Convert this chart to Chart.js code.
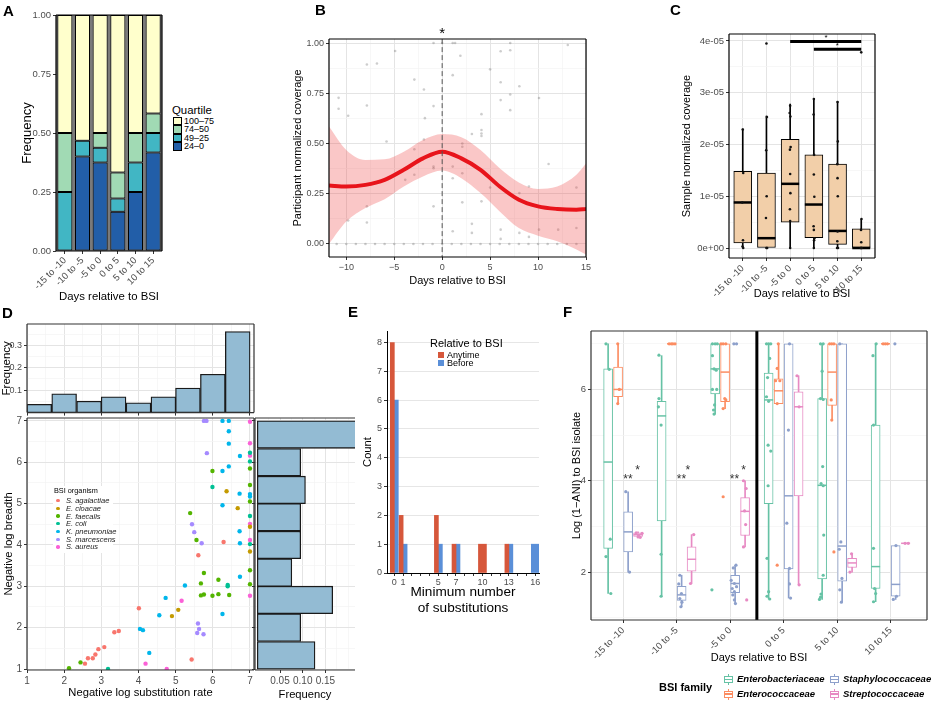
<!DOCTYPE html>
<html>
<head>
<meta charset="utf-8">
<title>BSI coverage figure</title>
<script src="https://cdn.jsdelivr.net/npm/chart.js@4.4.1/dist/chart.umd.min.js"></script>
<style>
  body { margin: 0; background: #fff; }
  #fig { position: relative; width: 933px; height: 704px; overflow: hidden; background: #fff;
         font-family: "Liberation Sans", Arial, sans-serif; color: #000; }
  #fig canvas { position: absolute; }
  .tag { position: absolute; font-size: 15px; line-height: 15px; font-weight: bold; }
  .abs { position: absolute; white-space: nowrap; }
</style>
</head>
<body>
<div id="fig">
  <canvas id="cA" width="170" height="305" style="left:0;top:0"></canvas>
  <canvas id="cB" width="345" height="300" style="left:250px;top:0"></canvas>
  <canvas id="cC" width="303" height="305" style="left:630px;top:0"></canvas>
  <canvas id="cDtop" width="260" height="120" style="left:0;top:300px"></canvas>
  <canvas id="cDmain" width="260" height="294" style="left:0;top:410px"></canvas>
  <canvas id="cDright" width="106" height="294" style="left:250px;top:410px"></canvas>
  <canvas id="cE" width="225" height="330" style="left:340px;top:300px"></canvas>
  <canvas id="cF" width="373" height="375" style="left:560px;top:300px"></canvas>
  <div class="tag" style="left:3px;top:3px">A</div>
  <div class="tag" style="left:315px;top:2px">B</div>
  <div class="tag" style="left:670px;top:2px">C</div>
  <div class="tag" style="left:2px;top:305px">D</div>
  <div class="tag" style="left:348px;top:304px">E</div>
  <div class="tag" style="left:563px;top:304px">F</div>
</div>
<script>
'use strict';

// ---- A: coverage quartile per window ----
const dayBins = ['-15 to -10', '-10 to -5', '-5 to 0', '0 to 5', '5 to 10', '10 to 15'];
const quartileNames = ['100–75', '74–50', '49–25', '24–0'];
const q100to75 = [0.5, 0.533, 0.5, 0.667, 0.5, 0.417];
const q74to50 = [0.25, 0, 0.0625, 0.111, 0.125, 0.083];
const q49to25 = [0.25, 0.067, 0.0625, 0.056, 0.125, 0.083];
const q24to0 = [0, 0.4, 0.375, 0.166, 0.25, 0.417];
const freqTicks = [0, 0.25, 0.5, 0.75, 1];
const freqLabels = ['0.00', '0.25', '0.50', '0.75', '1.00'];

// ---- B: participant normalized coverage ----
const bFitDays = [-11.8, -10, -8, -6, -4, -2, 0, 2, 4, 6, 8, 10, 12, 14, 15];
const bFit = [0.291, 0.286, 0.294, 0.319, 0.369, 0.426, 0.459, 0.426, 0.369, 0.286, 0.22, 0.187, 0.174, 0.17, 0.174];
const bUpper = [0.585, 0.468, 0.418, 0.421, 0.459, 0.517, 0.547, 0.531, 0.468, 0.377, 0.306, 0.274, 0.286, 0.344, 0.40];
const bLower = [0.0, 0.112, 0.179, 0.223, 0.286, 0.336, 0.365, 0.327, 0.253, 0.162, 0.079, 0.041, 0.013, -0.028, -0.053];
const bPoints = [
  [-0.9, 1.0], [0, 1.0], [1.1, 1.0], [1.35, 1.0], [7.1, 1.0], [13.1, 0.99],
  [-10.8, 0.727], [-10.8, 0.673], [-9.8, 0.638], [-7.85, 0.893], [-6.8, 0.898], [-7.85, 0.689],
  [-4.9, 0.96], [-5.8, 0.51], [-2.9, 0.818], [-1.9, 0.769], [-0.9, 0.686], [-1.8, 0.626],
  [1.1, 0.84], [1.9, 0.937], [5.0, 0.869], [6.1, 0.959], [7.1, 0.964], [6.1, 0.805], [6.1, 0.716],
  [7.1, 0.744], [7.1, 0.666], [8.05, 0.785], [10.1, 0.726], [4.1, 0.646], [4.1, 0.567], [4.1, 0.55],
  [4.1, 0.537], [3.1, 0.547], [2.1, 0.5], [2.1, 0.484], [11.1, 0.398], [1.1, 0.327], [-0.9, 0.187],
  [-7.85, 0.187], [-7.85, 0.107], [-9.8, 0.117], [2.1, 0.207], [4.1, 0.212], [5.0, 0.281], [3.1, 0.1],
  [3.1, 0.055], [1.1, 0.063], [6.1, 0.071], [6.1, 0.025], [8.05, 0.055], [9.05, 0.035], [10.1, 0.071],
  [12.1, 0.071], [14.0, 0.281], [14.0, 0.079], [-3.85, 0.319], [-2.9, 0.344], [-1.9, 0.52], [-0.9, 0.385],
  [-0.9, 0.377], [1.1, 0.385], [-2.9, 0.471], [2.1, 0.352], [8.05, 0.253], [9.05, 0.286],
  [-11, 0], [-10, 0], [-9, 0], [-8, 0], [-7, 0], [-6, 0], [-5, 0], [-4, 0], [-3, 0], [-2, 0], [-1, 0],
  [0, 0], [1, 0], [2, 0], [3, 0], [4, 0], [5, 0], [6, 0], [7, 0], [8, 0], [9, 0], [10, 0], [11, 0],
  [12, 0], [13, 0], [14, 0]
];
const bXTicks = [-10, -5, 0, 5, 10, 15];
const bXLabels = ['−10', '−5', '0', '5', '10', '15'];
const bYTicks = [0, 0.25, 0.5, 0.75, 1];

// ---- C: sample normalized coverage (values in units of 1e-05) ----
const cLow = [0, 0, 0, 0, 0, 0];
const cQ1 = [0.1, 0, 0.5, 0.2, 0.07, 0];
const cMedian = [0.88, 0.19, 1.24, 0.84, 0.33, 0];
const cQ3 = [1.48, 1.45, 2.1, 1.8, 1.62, 0.37];
const cHigh = [2.3, 2.55, 2.78, 2.88, 2.83, 0.55];
const cPoints = [
  [1.0, 2.29], [1.02, 1.45], [0.98, 0.88], [1.01, 0.15], [0.99, 0.03], [1.02, 0],
  [2.0, 3.95], [2.02, 2.53], [1.99, 1.89], [2.01, 1.0], [1.98, 0.58], [2.0, 0], [2.03, 0],
  [3.0, 2.75], [2.98, 2.61], [3.01, 2.54], [3.02, 1.95], [2.99, 1.9], [3.0, 1.43], [3.01, 1.06],
  [2.99, 0.75], [3.0, 0.52], [3.0, 0],
  [4.0, 2.88], [3.99, 2.58], [4.01, 1.8], [4.0, 1.42], [4.02, 0.99], [3.99, 0.42], [4.0, 0.35],
  [4.02, 0.19], [4.01, 0.15], [4.0, 0],
  [5.0, 2.82], [5.01, 2.06], [4.99, 1.62], [5.0, 1.35], [5.01, 1.0], [5.0, 0.32], [4.99, 0.13],
  [4.98, 0], [5.02, 0],
  [6.0, 3.78], [6.01, 0.56], [5.99, 0.35], [6.0, 0.11], [5.98, 0], [6.02, 0]
];
const cSigFrom = [3, 4];
const cSigTo = [6, 6];
const cSigLevel = [3.99, 3.84];
const cStarX = [4.51, 4.99];
const cStarY = [4.06, 3.9];
const cYTicks = [0, 1, 2, 3, 4];
const cYLabels = ['0e+00', '1e-05', '2e-05', '3e-05', '4e-05'];

// ---- D: substitution rate vs breadth ----
const dOrganisms = ['S. agalactiae', 'E. cloacae', 'E. faecalis', 'E. coli', 'K. pneumoniae', 'S. marcescens', 'S. aureus'];
const dAgalactiae = [[6.29, 4.07], [5.61, 3.75], [4.01, 2.47], [3.35, 1.89], [3.47, 1.92], [3.08, 1.53], [2.92, 1.48],
  [2.84, 1.35], [2.77, 1.26], [2.64, 1.26], [2.56, 1.13], [5.43, 1.23]];
const dCloacae = [[6.37, 5.30], [6.67, 4.89], [7, 4.44], [7, 3.84], [5.07, 2.43], [4.90, 2.28]];
const dFaecalis = [[7, 5.85], [7, 5.45], [7, 5.05], [7, 3.39], [7, 3.05], [5.99, 5.79], [5.39, 4.77], [5.56, 4.12],
  [5.76, 3.32], [5.68, 3.07], [6.15, 3.16], [5.68, 2.78], [5.76, 2.80], [5.99, 2.77], [6.15, 2.81], [6.44, 2.79],
  [2.44, 1.16], [2.13, 1.02]];
const dColi = [[7, 6.23], [7, 6.02], [7, 4.70], [7, 4.02], [5.99, 5.40], [6.4, 3.0], [6.4, 3.03], [3.18, 1.0]];
const dPneumoniae = [[6.26, 7], [6.43, 7], [6.43, 6.75], [6.43, 6.45], [6.73, 6.15], [6.43, 5.90], [6.26, 5.79],
  [6.72, 5.24], [7, 5.23], [7, 5.17], [6.26, 4.96], [6.72, 4.33], [6.73, 4.04], [6.73, 3.23], [5.25, 3.02],
  [4.73, 2.72], [6.26, 2.33], [4.56, 2.30], [4.04, 1.97], [4.12, 1.94], [4.29, 1.39]];
const dMarcescens = [[5.76, 7], [5.83, 7], [5.84, 6.22], [5.44, 4.50], [5.50, 4.31], [5.70, 4.04], [5.60, 2.10],
  [5.63, 1.97], [5.58, 1.87], [5.75, 1.84]];
const dAureus = [[7, 6.98], [7, 6.46], [7, 6.16], [7, 4.51], [7, 4.12], [7, 2.77], [5.16, 2.65], [4.19, 1.13], [4.76, 1.0]];
const dBinCenters = [1.33, 2.0, 2.67, 3.33, 4.0, 4.67, 5.33, 6.0, 6.67];
const dRateFreq = [0.037, 0.084, 0.051, 0.07, 0.044, 0.07, 0.109, 0.171, 0.361];
const dBreadthFreq = [0.127, 0.0956, 0.166, 0.076, 0.0956, 0.0956, 0.106, 0.0956, 0.25];
const dAxisTicks = [1, 2, 3, 4, 5, 6, 7];
const dFreqTicks = [0.1, 0.2, 0.3];
const dFreqSideTicks = [0.05, 0.1, 0.15];
const dFreqSideLabels = ['0.05', '0.10', '0.15'];

// ---- E: minimum number of substitutions ----
const eSeries = ['Anytime', 'Before'];
const eSubs = [0, 1, 5, 7, 10, 13, 16];
const eAnytime = [8, 2, 2, 1, 1, 1, 0];
const eBefore = [6, 1, 1, 1, 0, 1, 1];
const eCountTicks = [0, 1, 2, 3, 4, 5, 6, 7, 8];

// ---- F: Log(1-ANI) by BSI family ----
const fFamilies = ['Enterobacteriaceae', 'Enterococcaceae', 'Staphylococcaceae', 'Streptococcaceae'];
// per window: [lower whisker, Q1, median, Q3, upper whisker]
const fEnteroBox = [[1.53, 2.52, 4.41, 6.45, 7.0], [1.47, 3.12, 5.42, 5.74, 6.74], [5.46, 5.9, 6.45, 7.0, 7.0],
  [1.41, 3.5, 5.77, 6.36, 7.0], [1.40, 1.85, 3.9, 5.8, 7.0], [1.35, 1.64, 2.12, 5.22, 7.0]];
const fEntcocBox = [[5.69, 5.84, 6.0, 6.49, 7.0], [7, 7, 7, 7, 7], [5.58, 5.73, 6.38, 7.0, 7.0],
  [5.69, 5.69, 5.97, 6.23, 7.0], [5.33, 5.65, 6.38, 7.0, 7.0], [7, 7, 7, 7, 7]];
const fStaphBox = [[2.0, 2.44, 2.88, 3.32, 3.76], [1.24, 1.38, 1.5, 1.69, 1.93], [1.31, 1.55, 1.75, 1.93, 2.15],
  [1.43, 2.07, 3.67, 7.0, 7.0], [1.34, 1.8, 2.57, 7.0, 7.0], [1.4, 1.47, 1.73, 2.58, 2.58]];
const fStrepBox = [[2.76, 2.78, 2.82, 2.86, 2.88], [1.75, 2.02, 2.28, 2.55, 2.82], [2.55, 2.8, 3.33, 3.63, 4.0],
  [1.72, 3.67, 5.62, 5.95, 6.3], [2.0, 2.1, 2.2, 2.3, 2.4], [2.63, 2.63, 2.63, 2.63, 2.63]];
const fEnteroPts = [[0.68, 7.0], [0.74, 6.44], [0.76, 2.72], [0.68, 2.34], [0.77, 1.53],
  [1.67, 6.75], [1.67, 5.80], [1.66, 5.62], [1.71, 5.22], [1.71, 2.39], [1.71, 1.47],
  [2.67, 7], [2.72, 7], [2.76, 7], [2.67, 6.74], [2.70, 6.45], [2.74, 6.42], [2.67, 6.0], [2.75, 6.0],
  [2.71, 5.66], [2.69, 5.55], [2.70, 5.46], [2.66, 1.61],
  [3.68, 7], [3.72, 7], [3.76, 7], [3.74, 6.68], [3.70, 6.26], [3.68, 5.84], [3.72, 5.74], [3.71, 4.78],
  [3.76, 4.65], [3.71, 3.89], [3.69, 2.30], [3.72, 1.57], [3.69, 1.47], [3.74, 1.41],
  [4.69, 7], [4.74, 7], [4.72, 6.40], [4.69, 5.80], [4.74, 5.78], [4.73, 4.31], [4.70, 3.94], [4.74, 3.89],
  [4.75, 2.81], [4.74, 1.93], [4.70, 1.52], [4.69, 1.45], [4.67, 1.40],
  [5.73, 7], [5.67, 6.74], [5.68, 5.22], [5.68, 2.52], [5.70, 1.64], [5.72, 1.53], [5.68, 1.35]];
const fEntcocPts = [[0.90, 7.0], [0.93, 6.0], [0.90, 5.69],
  [1.86, 7], [1.90, 7], [1.93, 7], [1.97, 7],
  [2.83, 7], [2.87, 7], [2.92, 7], [2.90, 5.80], [2.92, 5.77], [2.87, 5.58], [2.87, 3.65],
  [3.90, 7], [3.88, 6.46], [3.85, 6.19], [3.93, 6.19], [3.88, 5.69], [3.88, 2.15],
  [4.86, 7], [4.90, 7], [4.94, 7], [4.89, 5.77], [4.90, 5.33], [4.94, 2.44],
  [5.86, 7], [5.90, 7], [5.94, 7]];
const fStaphPts = [[1.05, 3.76], [1.12, 2.0],
  [2.06, 1.93], [2.04, 1.74], [2.09, 1.53], [2.06, 1.42], [2.10, 1.34], [2.08, 1.24],
  [3.07, 7], [3.12, 7], [3.06, 2.09], [3.11, 2.15], [3.02, 1.82], [3.08, 1.75], [3.12, 1.68], [3.04, 1.64],
  [3.08, 1.57], [3.05, 1.50], [3.08, 1.39], [3.10, 1.31],
  [4.11, 7], [4.09, 5.11], [4.06, 3.07], [4.11, 2.08], [4.11, 1.74], [4.13, 1.43],
  [5.05, 7], [5.07, 2.66], [5.04, 2.50], [5.09, 1.86], [5.05, 1.61], [5.08, 1.34],
  [6.08, 7], [6.10, 2.58], [6.05, 1.40], [6.11, 1.47]];
const fStrepPts = [[1.245, 2.86], [1.29, 2.81], [1.32, 2.76], [1.355, 2.85], [1.28, 2.77],
  [2.32, 2.82], [2.26, 1.75],
  [3.25, 4.0], [3.30, 3.83], [3.27, 3.34], [3.29, 3.04], [3.25, 2.55], [3.31, 1.39],
  [4.25, 6.30], [4.29, 5.62], [4.29, 1.72],
  [5.27, 2.40], [5.24, 2.0],
  [6.27, 2.63], [6.33, 2.63]];
const fStarX = [1.09, 1.27, 2.09, 2.21, 3.08, 3.25];
const fStarY = [4.03, 4.23, 4.03, 4.23, 4.03, 4.23];
const fStarText = ['**', '*', '**', '*', '**', '*'];
const fSplitAt = 3.5;
const fYTicks = [2, 4, 6];

// ---------- styling ----------
const FONT = '"Liberation Sans", Arial, sans-serif';
Chart.defaults.font.family = FONT;
Chart.defaults.color = '#4D4D4D';
Chart.defaults.animation = false;
Chart.defaults.events = [];
Chart.defaults.plugins.legend.display = false;
Chart.defaults.plugins.tooltip.enabled = false;

const quartileColors = ['#FFFFCC', '#A1DAB4', '#41B6C4', '#225EA8'];
const dColors = ['#F8766D', '#C49A00', '#53B400', '#00C094', '#00B6EB', '#A58AFF', '#FB61D7'];
const eColors = ['#D6573B', '#5A8FD8'];
const fColors = ['#66C2A5', '#FC8D62', '#8DA0CB', '#E78AC3'];
const fDodge = [-0.28, -0.094, 0.094, 0.28];
const histFill = '#93BBD3';

const near = (a, b) => Math.abs(a - b) < 1e-9;
const isMajor = (v, majors) => majors.some(m => near(m, v));
const labelFor = (vals, labels) => v => {
  const i = vals.findIndex(m => near(m, v));
  return i < 0 ? '' : (labels ? labels[i] : String(vals[i]));
};
const setTicks = values => scale => { scale.ticks = values.map(v => ({ value: v })); };
const fixW = w => scale => { scale.width = w; };
const fixH = h => scale => { scale.height = h; };
const halfSteps = (a, b, s) => { const out = []; for (let v = a; v <= b + 1e-9; v += s) out.push(+v.toFixed(6)); return out; };
const xy = pts => pts.map(p => ({ x: p[0], y: p[1] }));

function bwGrid(majors, onArea) {
  const maj = c => c.tick && isMajor(c.tick.value, majors);
  return {
    display: true, drawOnChartArea: onArea !== false, offset: false, tickLength: 3,
    color: c => maj(c) ? '#E4E4E4' : '#F3F3F3',
    lineWidth: c => maj(c) ? 1 : 0.7,
    tickColor: c => maj(c) ? '#333' : 'rgba(0,0,0,0)',
    tickWidth: 1
  };
}

function axis(o) {
  const horiz = o.pos === 'bottom' || o.pos === 'top';
  return {
    type: 'linear', position: o.pos, min: o.min, max: o.max, offset: false,
    afterBuildTicks: setTicks(o.all || o.majors),
    afterFit: horiz ? fixH(o.size) : fixW(o.size),
    grid: bwGrid(o.majors, o.onArea),
    border: { display: false },
    ticks: {
      display: o.showLabels !== false, autoSkip: false, font: { size: o.tickSize || 9.5 }, color: '#4D4D4D',
      padding: 2, minRotation: o.rot || 0, maxRotation: o.rot || 0, callback: labelFor(o.majors, o.labels)
    },
    title: o.title ? {
      display: true, text: o.title, color: '#000', font: { size: o.titleSize || 11 },
      padding: horiz ? { top: 0, bottom: o.titlePad } : { top: o.titlePad, bottom: 0 }
    } : { display: false }
  };
}

const decor = {
  id: 'decor',
  defaults: {},
  beforeDraw(chart, args, o) {
    if (!o.bg) return;
    const a = chart.chartArea, c = chart.ctx;
    c.save();
    c.fillStyle = o.bg;
    c.fillRect(a.left, a.top, a.right - a.left, a.bottom - a.top);
    c.restore();
  },
  afterDraw(chart, args, o) {
    const a = chart.chartArea, c = chart.ctx;
    c.save();
    if (o.frame) {
      const s = o.sides || 'tlbr';
      c.strokeStyle = o.frame;
      c.lineWidth = o.frameWidth || 1;
      c.beginPath();
      if (s.includes('t')) { c.moveTo(a.left, a.top); c.lineTo(a.right, a.top); }
      if (s.includes('r')) { c.moveTo(a.right, a.top); c.lineTo(a.right, a.bottom); }
      if (s.includes('b')) { c.moveTo(a.left, a.bottom); c.lineTo(a.right, a.bottom); }
      if (s.includes('l')) { c.moveTo(a.left, a.top); c.lineTo(a.left, a.bottom); }
      c.stroke();
    }
    (o.texts || []).forEach(t => {
      c.font = t.font;
      c.fillStyle = t.color || '#000';
      c.textAlign = 'center';
      c.textBaseline = 'middle';
      c.fillText(t.text, chart.scales.x.getPixelForValue(t.x), chart.scales.y.getPixelForValue(t.y));
    });
    c.restore();
  }
};
Chart.register(decor);

// ---------- A ----------
const aSeries = [q24to0, q49to25, q74to50, q100to75];
new Chart(document.getElementById('cA'), {
  type: 'bar',
  data: {
    labels: dayBins,
    datasets: aSeries.map((vals, i) => ({
      label: quartileNames[3 - i], data: vals, backgroundColor: quartileColors[3 - i],
      borderColor: '#000', borderWidth: 1, borderSkipped: false, barPercentage: 0.85, categoryPercentage: 1
    }))
  },
  options: {
    responsive: false,
    layout: { padding: { top: 15, right: 8, left: 0, bottom: 0 } },
    scales: {
      x: {
        stacked: true, offset: true, afterFit: fixH(54), border: { display: false },
        grid: { display: true, drawOnChartArea: false, offset: false, tickLength: 3, color: '#333' },
        ticks: { font: { size: 9.5 }, color: '#4D4D4D', minRotation: 45, maxRotation: 45, autoSkip: false, padding: 1 },
        title: { display: true, text: 'Days relative to BSI', color: '#000', font: { size: 11.4 }, padding: { top: 0, bottom: 1.2 } }
      },
      y: {
        stacked: true, min: 0, max: 1, afterBuildTicks: setTicks(freqTicks), afterFit: fixW(56), border: { display: false },
        grid: { display: true, drawOnChartArea: false, tickLength: 3, color: '#333' },
        ticks: { font: { size: 9.5 }, color: '#4D4D4D', padding: 2, callback: labelFor(freqTicks, freqLabels) },
        title: { display: true, text: 'Frequency', color: '#000', font: { size: 13 }, padding: { top: 19.2, bottom: 0 } }
      }
    },
    plugins: { decor: { bg: '#7A7A7A', frame: '#000', frameWidth: 1.2 } }
  }
});

// ---------- B ----------
new Chart(document.getElementById('cB'), {
  type: 'line',
  data: {
    datasets: [
      { type: 'scatter', data: xy(bPoints), pointRadius: 1.3, backgroundColor: 'rgba(90,90,90,0.3)', borderWidth: 0, order: 5 },
      { data: bFitDays.map((d, i) => ({ x: d, y: bLower[i] })), borderColor: 'rgba(0,0,0,0)', pointRadius: 0, fill: false, cubicInterpolationMode: 'monotone', order: 4 },
      { data: bFitDays.map((d, i) => ({ x: d, y: bUpper[i] })), borderColor: 'rgba(0,0,0,0)', pointRadius: 0, fill: '-1', backgroundColor: 'rgba(238,70,70,0.3)', cubicInterpolationMode: 'monotone', order: 3 },
      { data: bFitDays.map((d, i) => ({ x: d, y: bFit[i] })), borderColor: '#E8141B', borderWidth: 4, pointRadius: 0, fill: false, cubicInterpolationMode: 'monotone', order: 1 },
      { data: [{ x: 0, y: -0.2 }, { x: 0, y: 1.2 }], borderColor: '#555', borderWidth: 1, borderDash: [5, 3], pointRadius: 0, fill: false, order: 0 }
    ]
  },
  options: {
    responsive: false,
    layout: { padding: { top: 39, right: 9, left: 0, bottom: 0 } },
    scales: {
      x: axis({ pos: 'bottom', min: -11.8, max: 15, all: halfSteps(-10, 15, 2.5), majors: bXTicks, labels: bXLabels,
        size: 43, tickSize: 9, title: 'Days relative to BSI', titleSize: 11, titlePad: 12.4 }),
      y: axis({ pos: 'left', min: -0.065, max: 1.02, all: halfSteps(0, 1, 0.125), majors: bYTicks, labels: freqLabels,
        size: 79, tickSize: 9, title: 'Participant normalized coverage', titleSize: 11, titlePad: 41.4 })
    },
    plugins: { decor: { frame: '#000', frameWidth: 1.2, texts: [{ x: 0, y: 1.045, text: '*', font: '15px ' + FONT }] } }
  }
});

// ---------- C ----------
const cx = dayBins.map((_, i) => i + 1);
new Chart(document.getElementById('cC'), {
  type: 'bar',
  data: {
    datasets: [
      { data: cx.map((x, i) => ({ x, y: [cLow[i], cHigh[i]] })), backgroundColor: '#000', grouped: false,
        barThickness: 1, maxBarThickness: 1, barPercentage: 1, categoryPercentage: 1, order: 4 },
      { data: cx.map((x, i) => ({ x, y: [cQ1[i], cQ3[i]] })), backgroundColor: '#F2CFA9', borderColor: '#000',
        borderWidth: 1, borderSkipped: false, grouped: false, barThickness: 18, maxBarThickness: 18,
        barPercentage: 1, categoryPercentage: 1, order: 3 },
      { type: 'scatter', data: cx.map((x, i) => ({ x, y: cMedian[i] })), pointStyle: 'line', pointRadius: 9,
        borderColor: '#000', borderWidth: 2.5, order: 2 },
      { type: 'scatter', data: xy(cPoints), pointRadius: 1.3, backgroundColor: '#111', borderWidth: 0, order: 1 },
      ...cSigFrom.map((f, i) => ({ type: 'line', data: [{ x: f, y: cSigLevel[i] }, { x: cSigTo[i], y: cSigLevel[i] }],
        borderColor: '#000', borderWidth: 3, pointRadius: 0, fill: false, order: 0 }))
    ]
  },
  options: {
    responsive: false,
    layout: { padding: { top: 34, right: 58, left: 0, bottom: 0 } },
    scales: {
      x: axis({ pos: 'bottom', min: 0.42, max: 6.58, majors: cx, labels: dayBins, rot: 45,
        size: 47, tickSize: 9.5, title: 'Days relative to BSI', titleSize: 11, titlePad: 4.4 }),
      y: axis({ pos: 'left', min: -0.193, max: 4.135, all: halfSteps(0, 4, 0.5), majors: cYTicks, labels: cYLabels,
        size: 99, tickSize: 9.5, title: 'Sample normalized coverage', titleSize: 11, titlePad: 50.1 })
    },
    plugins: { decor: { frame: '#000', frameWidth: 1.2,
      texts: cStarX.map((x, i) => ({ x, y: cStarY[i], text: '*', font: '8px ' + FONT })) } }
  }
});

// ---------- D top histogram ----------
const dPxPerUnit = (254 - 27) / (7.108 - 1);
new Chart(document.getElementById('cDtop'), {
  type: 'bar',
  data: {
    datasets: [{ data: dBinCenters.map((c, i) => ({ x: c, y: dRateFreq[i] })), backgroundColor: histFill,
      borderColor: '#1A1A1A', borderWidth: 1.3, borderSkipped: false, barThickness: 0.667 * dPxPerUnit }]
  },
  options: {
    responsive: false,
    layout: { padding: { top: 24, right: 6, left: 0, bottom: 0 } },
    scales: {
      x: axis({ pos: 'bottom', min: 1, max: 7.108, all: halfSteps(1, 7, 0.5), majors: dAxisTicks, size: 6, showLabels: false }),
      y: axis({ pos: 'left', min: 0, max: 0.395, all: halfSteps(0.05, 0.35, 0.05), majors: dFreqTicks,
        size: 27, tickSize: 9, title: 'Frequency', titleSize: 11.5, titlePad: 0 })
    },
    plugins: { decor: { frame: '#333', frameWidth: 1.2 } }
  }
});

// ---------- D main scatter ----------
new Chart(document.getElementById('cDmain'), {
  type: 'scatter',
  data: {
    datasets: [dAgalactiae, dCloacae, dFaecalis, dColi, dPneumoniae, dMarcescens, dAureus].map((pts, i) => ({
      label: dOrganisms[i], data: xy(pts), pointRadius: 2.2, backgroundColor: dColors[i], borderWidth: 0
    }))
  },
  options: {
    responsive: false,
    layout: { padding: { top: 8, right: 6, left: 0, bottom: 0 } },
    scales: {
      x: axis({ pos: 'bottom', min: 1, max: 7.108, all: halfSteps(1, 7, 0.5), majors: dAxisTicks,
        size: 34, tickSize: 10, title: 'Negative log substitution rate', titleSize: 11.2, titlePad: 4.4 }),
      y: axis({ pos: 'left', min: 0.976, max: 7.07, all: halfSteps(1, 7, 0.5), majors: dAxisTicks,
        size: 27, tickSize: 10, title: 'Negative log breadth', titleSize: 11.2, titlePad: 2.4 })
    },
    plugins: { decor: { frame: '#333', frameWidth: 1.2 } }
  }
});

// ---------- D side histogram ----------
const dPxPerUnitY = (670 - 418) / (7.07 - 0.976);
new Chart(document.getElementById('cDright'), {
  type: 'bar',
  data: {
    datasets: [{ data: dBinCenters.map((c, i) => ({ x: dBreadthFreq[i], y: c })), backgroundColor: histFill,
      borderColor: '#1A1A1A', borderWidth: 1.3, borderSkipped: false, barThickness: 0.667 * dPxPerUnitY }]
  },
  options: {
    responsive: false,
    indexAxis: 'y',
    layout: { padding: { top: 8, right: 1, left: 0, bottom: 0 } },
    scales: {
      x: axis({ pos: 'bottom', min: -0.005, max: 0.215, all: halfSteps(0.025, 0.2, 0.025), majors: dFreqSideTicks,
        labels: dFreqSideLabels, size: 34, tickSize: 10, title: 'Frequency', titleSize: 11.2, titlePad: 2.4 }),
      y: axis({ pos: 'left', min: 0.976, max: 7.07, all: halfSteps(1, 7, 0.5), majors: dAxisTicks, size: 5, showLabels: false })
    },
    plugins: { decor: { frame: '#333', frameWidth: 1.2, sides: 'tlb' } }
  }
});

// ---------- E ----------
const both = eSubs.map((_, i) => eAnytime[i] > 0 && eBefore[i] > 0);
const barE = (extra) => Object.assign({ grouped: false, barPercentage: 1, categoryPercentage: 1, borderWidth: 0 }, extra);
new Chart(document.getElementById('cE'), {
  type: 'bar',
  data: {
    datasets: [
      barE({ label: eSeries[0], backgroundColor: eColors[0], barThickness: 4, maxBarThickness: 4,
        data: eSubs.map((s, i) => ({ x: s - 0.225, y: eAnytime[i] })).filter((_, i) => both[i]) }),
      barE({ label: eSeries[1], backgroundColor: eColors[1], barThickness: 4, maxBarThickness: 4,
        data: eSubs.map((s, i) => ({ x: s + 0.225, y: eBefore[i] })).filter((_, i) => both[i]) }),
      barE({ label: eSeries[0], backgroundColor: eColors[0], barThickness: 8, maxBarThickness: 8, xAxisID: 'x2',
        data: eSubs.map((s, i) => ({ x: s, y: eAnytime[i] })).filter((_, i) => !both[i] && eAnytime[i] > 0) }),
      barE({ label: eSeries[1], backgroundColor: eColors[1], barThickness: 8, maxBarThickness: 8, xAxisID: 'x2',
        data: eSubs.map((s, i) => ({ x: s, y: eBefore[i] })).filter((_, i) => !both[i] && eBefore[i] > 0) })
    ]
  },
  options: {
    responsive: false,
    layout: { padding: { top: 31, right: 26, left: 0, bottom: 0 } },
    scales: {
      x: {
        type: 'linear', position: 'bottom', min: -0.83, max: 16.42, offset: false,
        afterBuildTicks: setTicks(halfSteps(0, 16, 1)), afterFit: fixH(57),
        grid: { display: true, drawOnChartArea: false, offset: false, tickLength: 3, color: '#333' },
        border: { display: true, color: '#000', width: 1 },
        ticks: { autoSkip: false, maxRotation: 0, font: { size: 9 }, color: '#4D4D4D', padding: 1, callback: labelFor(eSubs) },
        title: { display: true, text: ['Minimum number', 'of substitutions'], color: '#000', font: { size: 13.6 }, padding: { top: 0, bottom: 13.5 } }
      },
      x2: { type: 'linear', display: false, min: -0.83, max: 16.42, offset: false },
      y: {
        type: 'linear', min: 0, max: 8.4, afterBuildTicks: setTicks(eCountTicks), afterFit: fixW(47),
        grid: { display: true, color: '#E6E6E6', tickColor: '#333', tickLength: 3 },
        border: { display: true, color: '#000', width: 1 },
        ticks: { font: { size: 9 }, color: '#4D4D4D', padding: 2, callback: labelFor(eCountTicks) },
        title: { display: true, text: 'Count', color: '#000', font: { size: 11.2 }, padding: { top: 21.3, bottom: 0 } }
      }
    }
  }
});

// ---------- F ----------
const fBoxes = [fEnteroBox, fEntcocBox, fStaphBox, fStrepBox];
const fPts = [fEnteroPts, fEntcocPts, fStaphPts, fStrepPts];
const fDatasets = [];
fBoxes.forEach((boxes, k) => {
  const pos = boxes.map((_, i) => i + 1 + fDodge[k]);
  fDatasets.push(
    { data: boxes.map((b, i) => ({ x: pos[i], y: [b[0], b[4]] })), backgroundColor: fColors[k], grouped: false,
      barThickness: 1, maxBarThickness: 1, barPercentage: 1, categoryPercentage: 1, order: 4 },
    { data: boxes.map((b, i) => ({ x: pos[i], y: [b[1], b[3]] })), backgroundColor: '#fff', borderColor: fColors[k],
      borderWidth: 1, borderSkipped: false, grouped: false, barThickness: 9, maxBarThickness: 9,
      barPercentage: 1, categoryPercentage: 1, order: 3 },
    { type: 'scatter', data: boxes.map((b, i) => ({ x: pos[i], y: b[2] })), pointStyle: 'line', pointRadius: 4.5,
      borderColor: fColors[k], borderWidth: 1.5, order: 2 },
    { type: 'scatter', label: fFamilies[k], data: xy(fPts[k]), pointRadius: 1.6, backgroundColor: fColors[k], borderWidth: 0, order: 1 }
  );
});
fDatasets.push({ type: 'line', data: [{ x: fSplitAt, y: 0 }, { x: fSplitAt, y: 8 }], borderColor: '#000',
  borderWidth: 3, pointRadius: 0, fill: false, order: 0 });
const fx = dayBins.map((_, i) => i + 1);
new Chart(document.getElementById('cF'), {
  type: 'bar',
  data: { datasets: fDatasets },
  options: {
    responsive: false,
    layout: { padding: { top: 31, right: 0, left: 0, bottom: 0 } },
    scales: {
      x: axis({ pos: 'bottom', min: 0.4, max: 6.68, majors: fx, labels: dayBins, rot: 45,
        size: 55, tickSize: 9.5, title: 'Days relative to BSI', titleSize: 11, titlePad: 10.4 }),
      y: axis({ pos: 'left', min: 0.95, max: 7.28, all: halfSteps(1, 7, 1), majors: fYTicks, labels: ['2', '4', '6'],
        size: 31, tickSize: 9.5, title: 'Log (1−ANI) to BSI isolate', titleSize: 11, titlePad: 10.4 })
    },
    plugins: { decor: { frame: '#333', frameWidth: 1.2,
      texts: fStarX.map((x, i) => ({ x, y: fStarY[i], text: fStarText[i], font: '12px ' + FONT, color: '#333' })) } }
  }
});

// ---------- legends (HTML) ----------
function el(parent, css, text) {
  const d = document.createElement('div');
  d.className = 'abs';
  d.style.cssText = css;
  if (text !== undefined) d.textContent = text;
  parent.appendChild(d);
  return d;
}
const fig = document.getElementById('fig');

// A
el(fig, 'left:172px;top:103px;font-size:11.4px;line-height:14px', 'Quartile');
quartileNames.forEach((q, i) => {
  const top = 117 + i * 8.4;
  el(fig, `left:172.5px;top:${top}px;width:7px;height:6.4px;border:1px solid #000;background:${quartileColors[i]}`);
  el(fig, `left:184px;top:${top - 1}px;font-size:9px;line-height:10.4px`, q);
});

// D
const legD = el(fig, 'left:53px;top:486px;width:60px;height:67px;background:#fff');
el(legD, 'left:1px;top:0;font-size:7.3px;line-height:9px', 'BSI organism');
dOrganisms.forEach((name, i) => {
  const cy = 14.7 + i * 7.7;
  el(legD, `left:3.3px;top:${cy - 1.7}px;width:3.4px;height:3.4px;border-radius:50%;background:${dColors[i]}`);
  el(legD, `left:13px;top:${cy - 4.5}px;font-size:7.5px;line-height:9px;font-style:italic;color:#222`, name);
});

// E
el(fig, 'left:430px;top:336.5px;font-size:11px;line-height:13px', 'Relative to BSI');
eSeries.forEach((s, i) => {
  const cy = 355 + i * 8;
  el(fig, `left:437.7px;top:${cy - 3.2}px;width:6.4px;height:6.4px;background:${eColors[i]}`);
  el(fig, `left:447px;top:${cy - 5.5}px;font-size:9px;line-height:11px`, s);
});

// F
el(fig, 'left:659px;top:680px;font-size:11px;line-height:14px;font-weight:bold', 'BSI family');
fFamilies.forEach((name, k) => {
  const col = k >> 1, row = k & 1;
  const left = col === 0 ? 723 : 829;
  const cy = row === 0 ? 679.3 : 694;
  const key = el(fig, `left:${left}px;top:${cy - 5.5}px;width:11px;height:11px`);
  el(key, `left:5px;top:0;width:1px;height:11px;background:${fColors[k]}`);
  el(key, `left:1px;top:2.5px;width:7px;height:4.5px;border:1px solid ${fColors[k]};background:#fff`);
  el(key, `left:1px;top:4.8px;width:9px;height:1.3px;background:${fColors[k]}`);
  el(fig, `left:${left + 14}px;top:${cy - 6}px;font-size:9.5px;line-height:12px;font-weight:bold;font-style:italic`, name);
});
</script>
</body>
</html>
